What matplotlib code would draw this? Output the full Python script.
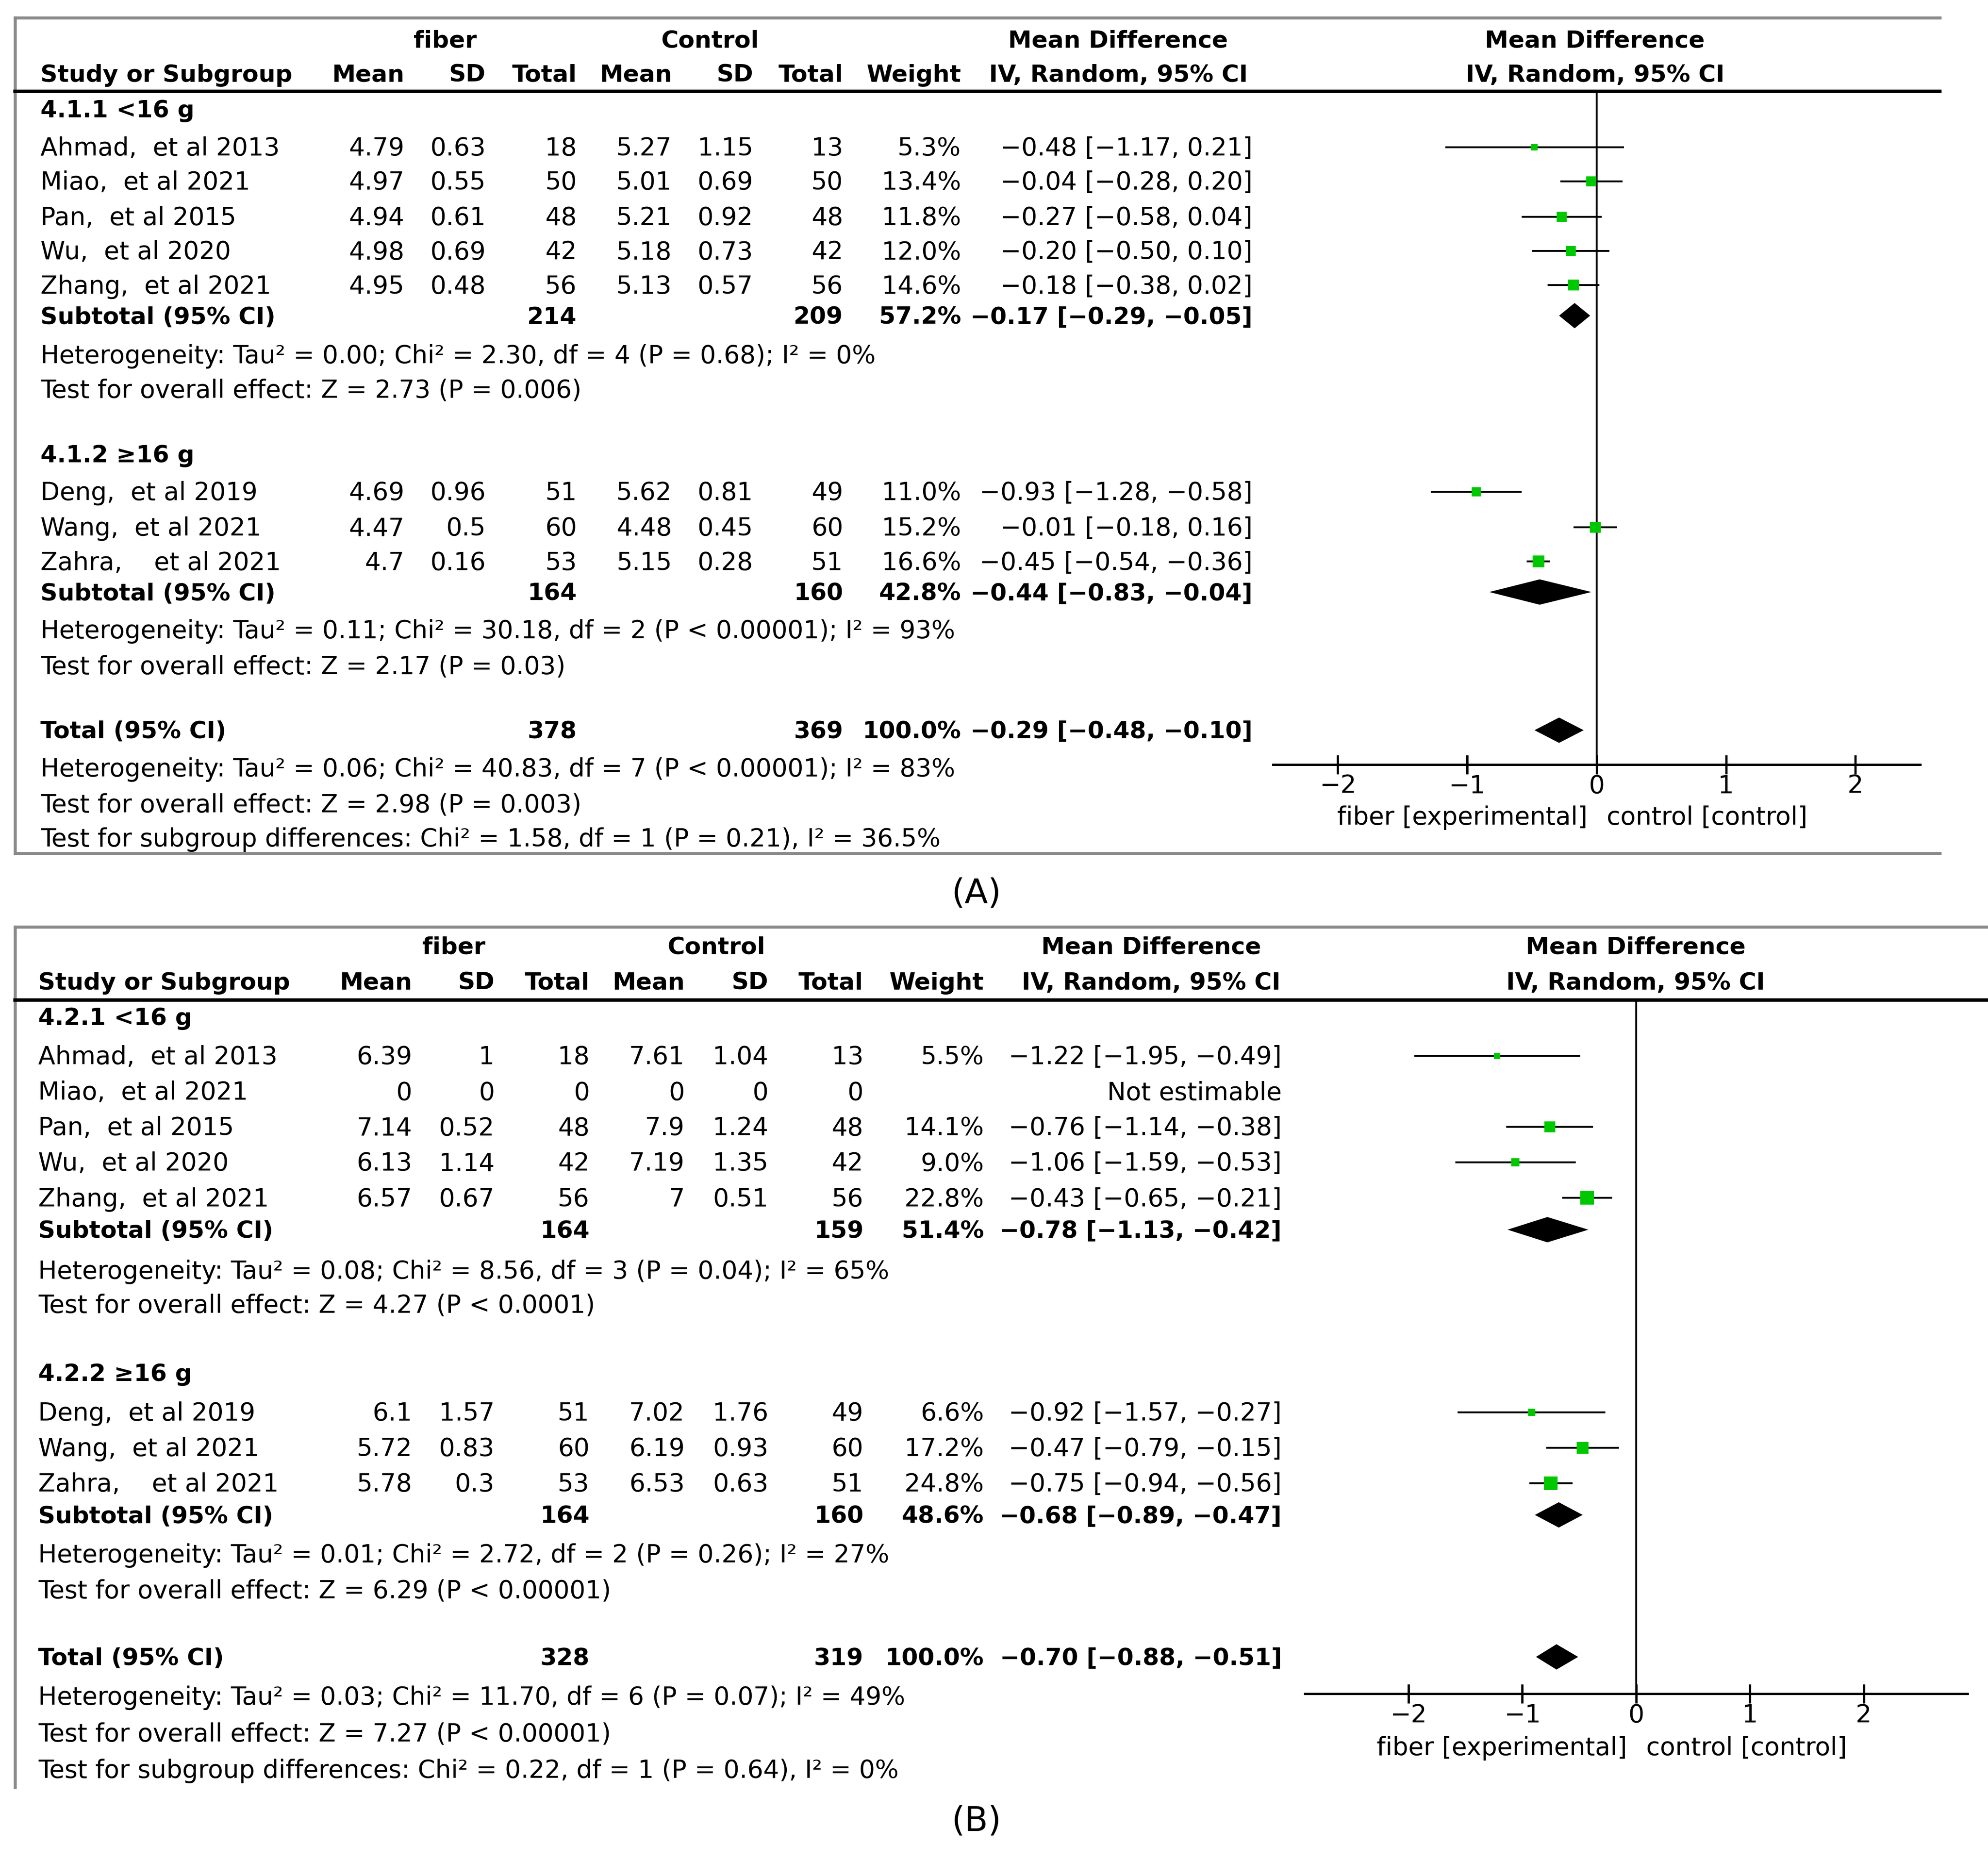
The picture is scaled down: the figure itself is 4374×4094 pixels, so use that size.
import numpy as np
import matplotlib.pyplot as plt

# layout units follow a 1568 x 1468 grid, scaled onto the 4374 x 4094 output
W, H = 1568, 1468
FS = 13.2        # regular text
FS_B = 12.5      # bold text
GREEN = '#00c800'
plt.rcParams['font.family'] = ['DejaVu Sans']

# ---------------- data: panel A ----------------
names_a = ["Ahmad,  et al 2013", "Miao,  et al 2021", "Pan,  et al 2015", "Wu,  et al 2020",
           "Zhang,  et al 2021", "Deng,  et al 2019", "Wang,  et al 2021", "Zahra,    et al 2021"]
fib_mean_a = [4.79, 4.97, 4.94, 4.98, 4.95, 4.69, 4.47, 4.7]
fib_sd_a = [0.63, 0.55, 0.61, 0.69, 0.48, 0.96, 0.5, 0.16]
fib_n_a = [18, 50, 48, 42, 56, 51, 60, 53]
ctl_mean_a = [5.27, 5.01, 5.21, 5.18, 5.13, 5.62, 4.48, 5.15]
ctl_sd_a = [1.15, 0.69, 0.92, 0.73, 0.57, 0.81, 0.45, 0.28]
ctl_n_a = [13, 50, 48, 42, 56, 49, 60, 51]
weight_a = [5.3, 13.4, 11.8, 12.0, 14.6, 11.0, 15.2, 16.6]
md_a = [-0.48, -0.04, -0.27, -0.20, -0.18, -0.93, -0.01, -0.45]
lo_a = [-1.17, -0.28, -0.58, -0.50, -0.38, -1.28, -0.18, -0.54]
hi_a = [0.21, 0.20, 0.04, 0.10, 0.02, -0.58, 0.16, -0.36]
groups_a = ["4.1.1 <16 g", "4.1.2 \u226516 g"]
sub_n_a = [(214, 209), (164, 160)]
sub_w_a = [57.2, 42.8]
sub_ci_a = [(-0.17, -0.29, -0.05), (-0.44, -0.83, -0.04)]
tot_n_a = (378, 369)
tot_ci_a = (-0.29, -0.48, -0.10)
stats_a = [
    ["Heterogeneity: Tau\u00b2 = 0.00; Chi\u00b2 = 2.30, df = 4 (P = 0.68); I\u00b2 = 0%",
     "Test for overall effect: Z = 2.73 (P = 0.006)"],
    ["Heterogeneity: Tau\u00b2 = 0.11; Chi\u00b2 = 30.18, df = 2 (P < 0.00001); I\u00b2 = 93%",
     "Test for overall effect: Z = 2.17 (P = 0.03)"],
    ["Heterogeneity: Tau\u00b2 = 0.06; Chi\u00b2 = 40.83, df = 7 (P < 0.00001); I\u00b2 = 83%",
     "Test for overall effect: Z = 2.98 (P = 0.003)",
     "Test for subgroup differences: Chi\u00b2 = 1.58, df = 1 (P = 0.21), I\u00b2 = 36.5%"],
]

# ---------------- data: panel B ----------------
names_b = names_a
fib_mean_b = [6.39, 0, 7.14, 6.13, 6.57, 6.1, 5.72, 5.78]
fib_sd_b = [1, 0, 0.52, 1.14, 0.67, 1.57, 0.83, 0.3]
fib_n_b = [18, 0, 48, 42, 56, 51, 60, 53]
ctl_mean_b = [7.61, 0, 7.9, 7.19, 7, 7.02, 6.19, 6.53]
ctl_sd_b = [1.04, 0, 1.24, 1.35, 0.51, 1.76, 0.93, 0.63]
ctl_n_b = [13, 0, 48, 42, 56, 49, 60, 51]
weight_b = [5.5, None, 14.1, 9.0, 22.8, 6.6, 17.2, 24.8]
md_b = [-1.22, None, -0.76, -1.06, -0.43, -0.92, -0.47, -0.75]
lo_b = [-1.95, None, -1.14, -1.59, -0.65, -1.57, -0.79, -0.94]
hi_b = [-0.49, None, -0.38, -0.53, -0.21, -0.27, -0.15, -0.56]
groups_b = ["4.2.1 <16 g", "4.2.2 \u226516 g"]
sub_n_b = [(164, 159), (164, 160)]
sub_w_b = [51.4, 48.6]
sub_ci_b = [(-0.78, -1.13, -0.42), (-0.68, -0.89, -0.47)]
tot_n_b = (328, 319)
tot_ci_b = (-0.70, -0.88, -0.51)
stats_b = [
    ["Heterogeneity: Tau\u00b2 = 0.08; Chi\u00b2 = 8.56, df = 3 (P = 0.04); I\u00b2 = 65%",
     "Test for overall effect: Z = 4.27 (P < 0.0001)"],
    ["Heterogeneity: Tau\u00b2 = 0.01; Chi\u00b2 = 2.72, df = 2 (P = 0.26); I\u00b2 = 27%",
     "Test for overall effect: Z = 6.29 (P < 0.00001)"],
    ["Heterogeneity: Tau\u00b2 = 0.03; Chi\u00b2 = 11.70, df = 6 (P = 0.07); I\u00b2 = 49%",
     "Test for overall effect: Z = 7.27 (P < 0.00001)",
     "Test for subgroup differences: Chi\u00b2 = 0.22, df = 1 (P = 0.64), I\u00b2 = 0%"],
]
group_sizes = [5, 3]
ticks = [-2, -1, 0, 1, 2]


def fmt_ci(md, lo, hi):
    return f"{md:.2f} [{lo:.2f}, {hi:.2f}]".replace('-', '\u2212')


fig = plt.figure(figsize=(4374 / 300, 4094 / 300), dpi=300)
cv = fig.add_axes([0, 0, 1, 1])
cv.set_xlim(0, W)
cv.set_ylim(H, 0)
cv.axis('off')


def txt(x, y, s, ha='left', bold=False, size=None):
    # y is the visual middle of the line
    if size is None:
        size = FS_B if bold else FS
    cv.text(x, y + 6.5, s, ha=ha, va='baseline', fontsize=size,
            fontweight='bold' if bold else 'normal')


def draw_panel(d, L):
    c = L['cols']
    # frame
    cv.plot([12, L['right']], [L['top'], L['top']], color='#8a8a8a', lw=1.6)
    cv.plot([12, 12], [L['top'], L['left_end']], color='#8a8a8a', lw=1.6)
    if L.get('bottom'):
        cv.plot([12, L['right']], [L['bottom'], L['bottom']], color='#8a8a8a', lw=1.6)
    cv.plot([12, L['right']], [L['sep'], L['sep']], color='black', lw=1.8)

    # header
    y1, y2 = L['h1'], L['h2']
    txt(L['fiber_c'], y1, 'fiber', 'center', True)
    txt(L['ctrl_c'], y1, 'Control', 'center', True)
    txt(L['md_c'], y1, 'Mean Difference', 'center', True)
    txt(L['plot_c'], y1, 'Mean Difference', 'center', True)
    txt(c['name'], y2, 'Study or Subgroup', 'left', True)
    for key, lab in [('m1', 'Mean'), ('s1', 'SD'), ('n1', 'Total'), ('m2', 'Mean'),
                     ('s2', 'SD'), ('n2', 'Total'), ('w', 'Weight')]:
        txt(c[key], y2, lab, 'right', True)
    txt(L['md_c'], y2, 'IV, Random, 95% CI', 'center', True)
    txt(L['plot_c'], y2, 'IV, Random, 95% CI', 'center', True)

    # forest axes
    x0, x1 = L['zero'] - L['lim'] * L['unit'], L['zero'] + L['lim'] * L['unit']
    fa = fig.add_axes([x0 / W, 1 - L['axis_y'] / H, (x1 - x0) / W, (L['axis_y'] - L['sep']) / H])
    fa.set_xlim(-L['lim'], L['lim'])
    fa.set_ylim(L['axis_y'], L['sep'])
    fa.patch.set_alpha(0)
    for s in ['top', 'left', 'right']:
        fa.spines[s].set_visible(False)
    fa.spines['bottom'].set_linewidth(1.2)
    fa.set_yticks([])
    fa.set_xticks(ticks)
    fa.tick_params(axis='x', direction='inout', length=10, width=1.2, pad=0, labelsize=FS)
    fa.axvline(0, color='black', lw=1.0, zorder=1)

    k = 0
    for g in range(2):
        ys = L['study_y'][g]
        txt(c['name'], L['title_y'][g], d['groups'][g], 'left', True)
        for j in range(group_sizes[g]):
            i = k + j
            y = ys[j]
            txt(c['name'], y, d['names'][i])
            txt(c['m1'], y, str(d['fm'][i]), 'right')
            txt(c['s1'], y, str(d['fs'][i]), 'right')
            txt(c['n1'], y, str(d['fn'][i]), 'right')
            txt(c['m2'], y, str(d['cm'][i]), 'right')
            txt(c['s2'], y, str(d['cs'][i]), 'right')
            txt(c['n2'], y, str(d['cn'][i]), 'right')
            if d['w'][i] is None:
                txt(c['ci'], y, 'Not estimable', 'right')
                continue
            txt(c['w'], y, f"{d['w'][i]:.1f}%", 'right')
            txt(c['ci'], y, fmt_ci(d['md'][i], d['lo'][i], d['hi'][i]), 'right')
            fa.hlines(y, d['lo'][i], d['hi'][i], color='black', lw=1.0, zorder=2)
            side = 2.2 * np.sqrt(d['w'][i]) * (4374 / W) / 300 * 72
            fa.scatter(d['md'][i], y, marker='s', s=side ** 2, color=GREEN,
                       linewidths=0, zorder=3)
        k += group_sizes[g]

        ys_sub = L['sub_y'][g]
        txt(c['name'], ys_sub, 'Subtotal (95% CI)', 'left', True)
        txt(c['n1'], ys_sub, str(d['sub_n'][g][0]), 'right', True)
        txt(c['n2'], ys_sub, str(d['sub_n'][g][1]), 'right', True)
        txt(c['w'], ys_sub, f"{d['sub_w'][g]:.1f}%", 'right', True)
        txt(c['ci'], ys_sub, fmt_ci(*d['sub_ci'][g]), 'right', True)
        md, lo, hi = d['sub_ci'][g]
        fa.fill([lo, md, hi, md], [ys_sub, ys_sub - 10, ys_sub, ys_sub + 10],
                color='black', lw=0, zorder=3)
        for line, yy in zip(d['stats'][g], L['stat_y'][g]):
            txt(c['name'], yy, line)

    yt = L['tot_y']
    txt(c['name'], yt, 'Total (95% CI)', 'left', True)
    txt(c['n1'], yt, str(d['tot_n'][0]), 'right', True)
    txt(c['n2'], yt, str(d['tot_n'][1]), 'right', True)
    txt(c['w'], yt, '100.0%', 'right', True)
    txt(c['ci'], yt, fmt_ci(*d['tot_ci']), 'right', True)
    md, lo, hi = d['tot_ci']
    fa.fill([lo, md, hi, md], [yt, yt - 10, yt, yt + 10], color='black', lw=0, zorder=3)
    for line, yy in zip(d['stats'][2], L['stat_y'][2]):
        txt(c['name'], yy, line)

    txt(L['zero'] - 106, L['xlab_y'], 'fiber [experimental]', 'center')
    txt(L['zero'] + 87, L['xlab_y'], 'control [control]', 'center')
    txt(770, L['panel_y'], L['panel'], 'center', size=18)


data_a = dict(names=names_a, fm=fib_mean_a, fs=fib_sd_a, fn=fib_n_a, cm=ctl_mean_a,
              cs=ctl_sd_a, cn=ctl_n_a, w=weight_a, md=md_a, lo=lo_a, hi=hi_a,
              groups=groups_a, sub_n=sub_n_a, sub_w=sub_w_a, sub_ci=sub_ci_a,
              tot_n=tot_n_a, tot_ci=tot_ci_a, stats=stats_a)
data_b = dict(names=names_b, fm=fib_mean_b, fs=fib_sd_b, fn=fib_n_b, cm=ctl_mean_b,
              cs=ctl_sd_b, cn=ctl_n_b, w=weight_b, md=md_b, lo=lo_b, hi=hi_b,
              groups=groups_b, sub_n=sub_n_b, sub_w=sub_w_b, sub_ci=sub_ci_b,
              tot_n=tot_n_b, tot_ci=tot_ci_b, stats=stats_b)

layout_a = dict(
    top=14, bottom=673, left_end=673, right=1530, sep=72, h1=31, h2=58,
    cols=dict(name=32, m1=319, s1=383, n1=455, m2=530, s2=594, n2=665, w=758, ci=988),
    fiber_c=351, ctrl_c=560, md_c=882, plot_c=1258,
    zero=1259.3, unit=102.06, lim=2.5, axis_y=603,
    title_y=[86, 358], study_y=[[116, 143, 171, 198, 225], [388, 416, 443]],
    sub_y=[249, 467], stat_y=[[280, 307], [497, 525], [606, 634, 661]],
    tot_y=576, xlab_y=644, panel_y=706, panel='(A)')
layout_b = dict(
    top=731, bottom=None, left_end=1410, right=1568, sep=789, h1=746, h2=774,
    cols=dict(name=30, m1=325, s1=390, n1=465, m2=540, s2=606, n2=681, w=776, ci=1011),
    fiber_c=358, ctrl_c=565, md_c=908, plot_c=1290,
    zero=1290.5, unit=89.77, lim=2.91, axis_y=1336,
    title_y=[802, 1083], study_y=[[833, 861, 889, 917, 945], [1114, 1142, 1170]],
    sub_y=[970, 1195], stat_y=[[1002, 1029], [1226, 1254], [1338, 1367, 1396]],
    tot_y=1307, xlab_y=1378, panel_y=1438, panel='(B)')

draw_panel(data_a, layout_a)
draw_panel(data_b, layout_b)

fig.savefig('out.png', dpi=300, facecolor='white')
